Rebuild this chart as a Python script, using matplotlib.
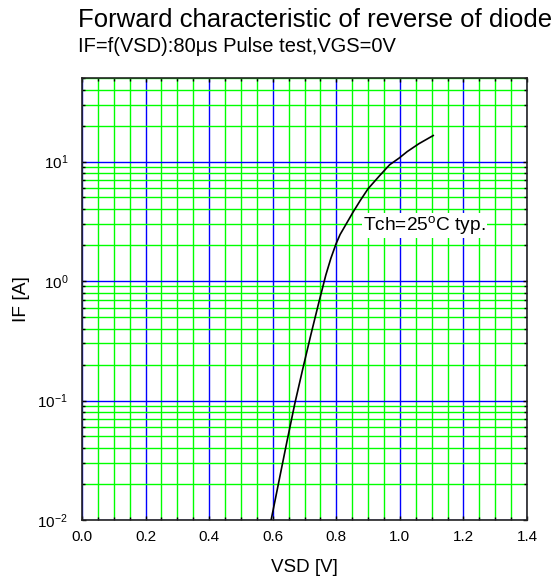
import matplotlib
matplotlib.use("Agg")
import matplotlib.pyplot as plt
from matplotlib.ticker import MultipleLocator, LogLocator, FuncFormatter, NullFormatter
import numpy as np

plt.rcParams['font.family'] = ['Liberation Sans', 'DejaVu Sans']
plt.rcParams['mathtext.fontset'] = 'custom'
plt.rcParams['mathtext.rm'] = 'Liberation Sans'
plt.rcParams['mathtext.it'] = 'Liberation Sans'

vsd = [0.595, 0.62, 0.645, 0.67, 0.695, 0.72, 0.745, 0.767, 0.783, 0.799,
       0.812, 0.853, 0.875, 0.900, 0.937, 0.968, 0.998, 1.023, 1.06, 1.105]
i_f = [0.01, 0.0214, 0.0457, 0.0955, 0.186, 0.355, 0.66, 1.12, 1.55, 2.04,
       2.45, 3.78, 4.7, 5.92, 7.65, 9.4, 10.7, 12.1, 14.1, 16.5]

title = "Forward characteristic of reverse of diode"
subtitle = "IF=f(VSD):80\u03bcs Pulse test,VGS=0V"
xlabel = "VSD [V]"
ylabel = "IF [A]"
curve_label = r"Tch=25$\mathregular{^{o}}$C typ."

fig = plt.figure(figsize=(5.55, 5.82), dpi=100)
ax = fig.add_axes([82/555, 1-520/582, 445/555, 442/582])

ax.set_yscale('log')
ax.set_xlim(0.0, 1.4)
ax.set_ylim(0.01, 50)

ax.xaxis.set_major_locator(MultipleLocator(0.2))
ax.xaxis.set_minor_locator(MultipleLocator(0.05))
ax.yaxis.set_major_locator(LogLocator(base=10, numticks=10))
ax.yaxis.set_minor_locator(LogLocator(base=10, subs=np.arange(2, 10), numticks=10))
ax.yaxis.set_major_formatter(FuncFormatter(lambda v, p: r"$\mathregular{10^{%d}}$" % round(np.log10(v))))
ax.yaxis.set_minor_formatter(NullFormatter())
ax.xaxis.set_major_formatter(FuncFormatter(lambda v, p: "%.1f" % v))

ax.grid(which='minor', color='#00ff00', lw=1.0)
ax.grid(which='major', color='#0000ff', lw=1.0)
ax.set_axisbelow(True)

ax.tick_params(which='both', direction='in', top=True, right=True, color='black')
ax.tick_params(which='major', length=3, width=1, labelsize=11, pad=7)
ax.tick_params(which='minor', length=2.5, width=1)
ax.tick_params(axis='y', which='major', pad=10)
for s in ax.spines.values():
    s.set_color('#222222')
    s.set_linewidth(1.2)

ax.plot(vsd, i_f, color='black', lw=1.2, zorder=3)

ax.text(0.884, 2.93, curve_label, fontsize=13.8, va='center', ha='left',
        bbox=dict(facecolor='white', edgecolor='none', pad=1), zorder=4)

ax.set_xlabel(xlabel, fontsize=13.5, va='center')
ax.xaxis.set_label_coords(0.5, (520 - 568) / 442)
ax.set_ylabel(ylabel, fontsize=13.8, va='center')
ax.yaxis.set_label_coords((22 - 82) / 445, 0.5)

fig.text(78/555, 1-20/582, title, fontsize=18.5, va='center', ha='left')
fig.text(78/555, 1-46/582, subtitle, fontsize=14.5, va='center', ha='left')

fig.savefig('out.png', dpi=100)
